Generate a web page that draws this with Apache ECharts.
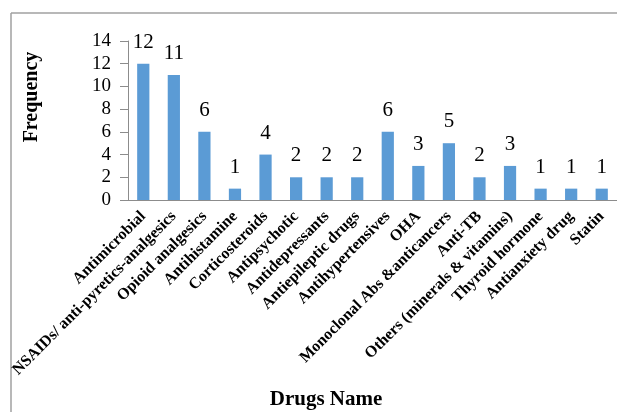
<!DOCTYPE html>
<html>
<head>
<meta charset="utf-8">
<script src="https://cdn.jsdelivr.net/npm/echarts@6/dist/echarts.min.js"></script>
<style>
  html, body { margin: 0; padding: 0; background: #fff; }
  #chart { width: 617px; height: 412px; }
</style>
</head>
<body>
<div id="chart"></div>
<script>
// Drug classes and how often each was prescribed
const drugClasses = [
  'Antimicrobial',
  'NSAIDs/ anti-pyretics-analgesics',
  'Opioid analgesics',
  'Antihistamine',
  'Corticosteroids',
  'Antipsychotic',
  'Antidepressants',
  'Antiepileptic drugs',
  'Antihypertensives',
  'OHA',
  'Monoclonal Abs &anticancers',
  'Anti-TB',
  'Others (minerals & vitamins)',
  'Thyroid hormone',
  'Antianxiety drug',
  'Statin'
];
const frequency = [12, 11, 6, 1, 4, 2, 2, 2, 6, 3, 5, 2, 3, 1, 1, 1];
const yTicks = { min: 0, max: 14, step: 2 };

const serif = '"Liberation Serif", "Times New Roman", serif';
const chart = echarts.init(document.getElementById('chart'), null, { renderer: 'canvas' });

chart.setOption({
  animation: false,
  backgroundColor: '#ffffff',
  grid: { left: 128, top: 41, right: 0, bottom: 212, containLabel: false },
  xAxis: {
    type: 'category',
    data: drugClasses,
    axisLine: { show: true, lineStyle: { color: '#8c8c8c', width: 1 } },
    axisTick: { show: false },
    axisLabel: {
      interval: 0,
      rotate: 45,
      margin: 14,
      fontFamily: serif,
      fontWeight: 'bold',
      fontSize: 16,
      color: '#000'
    }
  },
  yAxis: {
    type: 'value',
    min: yTicks.min,
    max: yTicks.max,
    interval: yTicks.step,
    splitLine: { show: false },
    axisLine: { show: true, lineStyle: { color: '#8c8c8c', width: 1 } },
    axisTick: { show: true, length: 8, lineStyle: { color: '#8c8c8c' } },
    axisLabel: {
      margin: 17,
      fontFamily: serif,
      fontSize: 19,
      color: '#000'
    }
  },
  series: [{
    type: 'bar',
    data: frequency,
    barCategoryGap: '60%',
    itemStyle: { color: '#5b9bd5' },
    label: {
      show: true,
      position: 'top',
      distance: 11,
      fontFamily: serif,
      fontSize: 21,
      color: '#000'
    }
  }],
  graphic: [
    // frame lines along the top and left edge
    { type: 'line', shape: { x1: 11, y1: 13, x2: 617, y2: 13 }, style: { stroke: '#a0a0a0', lineWidth: 1.5 }, silent: true },
    { type: 'line', shape: { x1: 11, y1: 13, x2: 11, y2: 412 }, style: { stroke: '#a0a0a0', lineWidth: 1.5 }, silent: true },
    {
      type: 'text',
      x: 32, y: 97,
      rotation: Math.PI / 2,
      style: {
        text: 'Frequency',
        font: 'bold 20px ' + serif,
        fill: '#000',
        align: 'center',
        verticalAlign: 'middle'
      }
    },
    {
      type: 'text',
      x: 326, y: 400,
      style: {
        text: 'Drugs Name',
        font: 'bold 21px ' + serif,
        fill: '#000',
        align: 'center',
        verticalAlign: 'middle'
      }
    }
  ]
});
</script>
</body>
</html>
